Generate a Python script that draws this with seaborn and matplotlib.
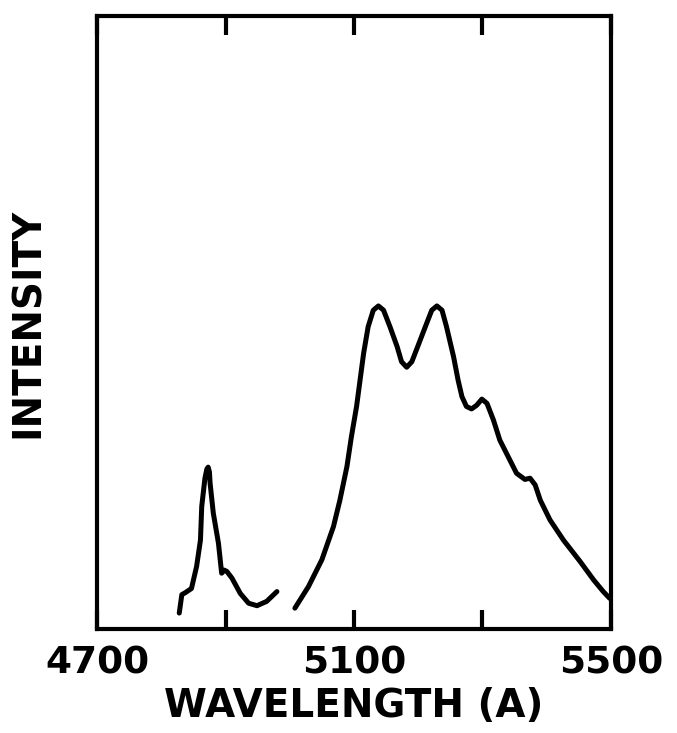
import pandas as pd
import matplotlib
matplotlib.use("agg")
import matplotlib.pyplot as plt
import seaborn as sns

# blue band (short wavelength) segment
wl_blue = [4828, 4832, 4837, 4847, 4855, 4861, 4863, 4868, 4871, 4873, 4875,
           4876, 4881, 4889, 4894, 4898, 4902, 4910, 4923, 4936, 4949, 4964, 4980]
int_blue = [2.6, 5.6, 5.9, 6.6, 10.2, 14.5, 20.0, 24.6, 26.1, 26.4, 25.6,
            23.8, 18.9, 14.0, 9.1, 9.6, 9.4, 8.3, 5.8, 4.2, 3.8, 4.5, 6.1]

# green band segment
wl_green = [5008, 5029, 5050, 5068, 5078, 5089, 5096, 5104, 5115, 5122, 5130,
            5138, 5146, 5156, 5167, 5174, 5182, 5190, 5200, 5211, 5221, 5229,
            5237, 5244, 5255, 5262, 5268, 5275, 5283, 5291, 5299, 5307, 5317,
            5327, 5340, 5353, 5366, 5374, 5382, 5390, 5405, 5426, 5452, 5473,
            5488, 5498]
int_green = [3.4, 6.9, 11.3, 16.7, 21.0, 26.5, 31.4, 36.3, 45.0, 49.3, 52.0,
             52.7, 52.0, 49.3, 46.1, 43.6, 42.7, 43.6, 46.3, 49.3, 52.0, 52.7,
             52.0, 49.3, 44.4, 40.6, 37.9, 36.3, 35.9, 36.5, 37.5, 36.8, 34.1,
             30.8, 28.1, 25.4, 24.4, 24.6, 23.5, 21.0, 17.8, 14.5, 11.0, 8.0,
             6.1, 5.0]

label_ticks = [4700, 5100, 5500]
minor_ticks = [4900, 5300]

df_blue = pd.DataFrame({"wl": wl_blue, "intensity": int_blue})
df_green = pd.DataFrame({"wl": wl_green, "intensity": int_green})

sns.set_style("white")
plt.rcParams["font.family"] = ["DejaVu Sans"]
plt.rcParams["text.color"] = "black"
plt.rcParams["axes.labelcolor"] = "black"
plt.rcParams["xtick.color"] = "black"
plt.rcParams["xtick.labelcolor"] = "black"

fig = plt.figure(figsize=(6.77, 7.33), dpi=100)
ax = fig.add_axes([0.1433, 0.1419, 0.7592, 0.8363])

for d in (df_blue, df_green):
    sns.lineplot(data=d, x="wl", y="intensity", ax=ax, sort=False,
                 estimator=None, color="black", linewidth=3.6,
                 solid_joinstyle="round", solid_capstyle="round")

ax.set_xlim(4700, 5500)
ax.set_ylim(0, 100)
ax.set_yticks([])
ax.set_xticks(label_ticks)
ax.set_xticks(minor_ticks, minor=True)
ax.set_xticklabels([str(t) for t in label_ticks], fontsize=27, fontweight="bold")
ax.tick_params(axis="x", which="both", direction="in", length=14, width=3,
               top=True, bottom=True, pad=12, color="black")

for sp in ax.spines.values():
    sp.set_linewidth(3)
    sp.set_color("black")
    sp.set_visible(True)

ax.set_xlabel("WAVELENGTH (A)", fontsize=28, fontweight="bold", labelpad=4)
ax.set_ylabel("INTENSITY", fontsize=28, fontweight="bold", labelpad=36)

fig.savefig("out.png", dpi=100)
